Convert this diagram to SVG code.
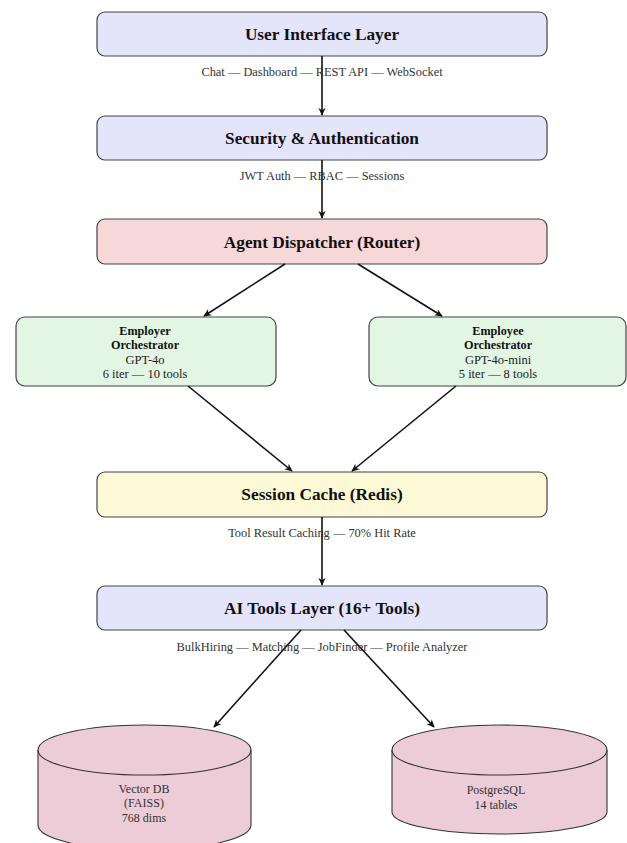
<svg xmlns="http://www.w3.org/2000/svg" width="627" height="843" viewBox="0 0 627 843">
<defs>
<marker id="ah" viewBox="0 0 10 10" refX="9" refY="5" markerWidth="8" markerHeight="8" orient="auto" markerUnits="userSpaceOnUse">
<path d="M0,0.5 L10,5 L0,9.5 L3,5 Z" fill="#111"/>
</marker>
<style>
.box{stroke:#444;stroke-width:1.2}
.blue{fill:#e4e4fa}
.red{fill:#f7d8d8}
.green{fill:#e3f6e3}
.yellow{fill:#fdf9d6}
.db{fill:#ebccd7;stroke:#333;stroke-width:1.1}
.title{font-family:"Liberation Serif","Times New Roman",serif;font-weight:bold;font-size:17.3px;fill:#111;text-anchor:middle;dominant-baseline:central}
.lbl{font-family:"Liberation Serif","Times New Roman",serif;font-size:12.4px;fill:#333;text-anchor:middle;dominant-baseline:central}
.dbt{font-family:"Liberation Serif","Times New Roman",serif;font-size:12px;fill:#333;text-anchor:middle;dominant-baseline:central}
.sm{font-family:"Liberation Serif","Times New Roman",serif;font-size:12.5px;fill:#222;text-anchor:middle;dominant-baseline:central}
.smb{font-family:"Liberation Serif","Times New Roman",serif;font-size:12.2px;font-weight:bold;fill:#111;text-anchor:middle;dominant-baseline:central}
.conn line{stroke:#111;stroke-width:1.6;marker-end:url(#ah)}
</style>
</defs>

<g id="ui">
<rect class="box blue" x="97" y="12" width="450" height="44" rx="8"/>
<text class="title" x="322" y="34">User Interface Layer</text>
</g>
<g id="security">
<rect class="box blue" x="97" y="116" width="450" height="44" rx="8"/>
<text class="title" x="322" y="138">Security &amp; Authentication</text>
</g>
<g id="dispatcher">
<rect class="box red" x="97" y="219" width="450" height="45" rx="8"/>
<text class="title" x="322" y="242">Agent Dispatcher (Router)</text>
</g>
<g id="employer">
<rect class="box green" x="16" y="317" width="260" height="69" rx="9"/>
<text class="smb" x="145" y="331">Employer</text>
<text class="smb" x="145" y="345">Orchestrator</text>
<text class="sm" x="145" y="360">GPT-4o</text>
<text class="sm" x="145" y="374">6 iter — 10 tools</text>
</g>
<g id="employee">
<rect class="box green" x="369" y="317" width="257" height="69" rx="9"/>
<text class="smb" x="498" y="331">Employee</text>
<text class="smb" x="498" y="345">Orchestrator</text>
<text class="sm" x="498" y="360">GPT-4o-mini</text>
<text class="sm" x="498" y="374">5 iter — 8 tools</text>
</g>
<g id="cache">
<rect class="box yellow" x="97" y="472" width="450" height="45" rx="8"/>
<text class="title" x="322" y="494">Session Cache (Redis)</text>
</g>
<g id="tools">
<rect class="box blue" x="97" y="586" width="450" height="44" rx="8"/>
<text class="title" x="322" y="608">AI Tools Layer (16+ Tools)</text>
</g>
<g id="vectordb">
<path class="db" d="M38,750 A106.5,25 0 0 1 251,750 L251,825 A106.5,25 0 0 1 38,825 Z"/>
<path class="db" style="fill:none" d="M38,750 A106.5,25 0 0 0 251,750"/>
<text class="dbt" x="144" y="789">Vector DB</text>
<text class="dbt" x="144" y="803">(FAISS)</text>
<text class="dbt" x="144" y="818">768 dims</text>
</g>
<g id="postgres">
<path class="db" d="M392,750 A107.5,25 0 0 1 607,750 L607,812 A107.5,22 0 0 1 392,812 Z"/>
<path class="db" style="fill:none" d="M392,750 A107.5,25 0 0 0 607,750"/>
<text class="dbt" x="496" y="790">PostgreSQL</text>
<text class="dbt" x="496" y="805">14 tables</text>
</g>

<g id="connectors" class="conn">
<line x1="322" y1="56" x2="322" y2="115"/>
<line x1="322" y1="160" x2="322" y2="218"/>
<line x1="285" y1="264" x2="204" y2="316"/>
<line x1="358" y1="264" x2="442" y2="316"/>
<line x1="188" y1="386" x2="292" y2="471"/>
<line x1="456" y1="386" x2="352" y2="471"/>
<line x1="322" y1="517" x2="322" y2="585"/>
<line x1="301" y1="630" x2="214" y2="727"/>
<line x1="344" y1="630" x2="434" y2="727"/>
</g>

<g id="labels">
<text class="lbl" x="322" y="72">Chat — Dashboard — REST API — WebSocket</text>
<text class="lbl" x="322" y="176">JWT Auth — RBAC — Sessions</text>
<text class="lbl" x="322" y="533">Tool Result Caching — 70% Hit Rate</text>
<text class="lbl" x="322" y="647">BulkHiring — Matching — JobFinder — Profile Analyzer</text>
</g>
</svg>
